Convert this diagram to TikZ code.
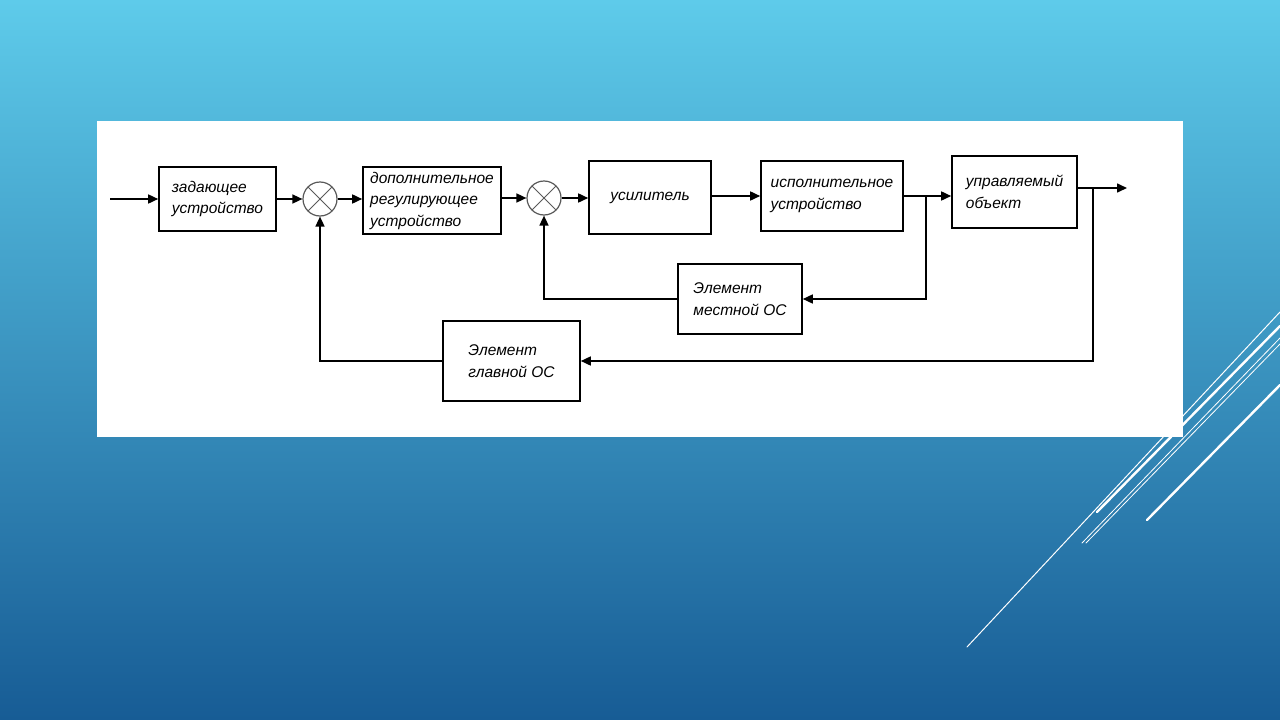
\documentclass[tikz,border=0pt]{standalone}
\usepackage{fontspec}
\setmainfont{Liberation Sans}
\usetikzlibrary{arrows.meta}
\definecolor{bgtop}{HTML}{5ECBEA}
\definecolor{bgmid}{HTML}{3499C9}
\definecolor{bgbot}{HTML}{175C95}
\definecolor{sumgray}{gray}{0.35}

\begin{document}
\begin{tikzpicture}[
  x=1pt, y=-1pt,
  box/.style={draw, line width=1.6pt, align=left, inner sep=0pt,
    font=\itshape\fontsize{15.5}{21.5}\selectfont},
  sumnode/.style={circle, draw=sumgray, line width=1.2pt, minimum size=34pt, inner sep=0pt,
    path picture={\draw[sumgray, line width=1pt]
      (path picture bounding box.north west) -- (path picture bounding box.south east)
      (path picture bounding box.north east) -- (path picture bounding box.south west);}},
  arr/.style={-{Triangle[length=10pt,width=9pt]}, line width=1.6pt},
  deco/.style={white, line cap=round}
]
  \useasboundingbox (0,0) rectangle (1280,720);
  \shade[top color=bgtop, middle color=bgmid, bottom color=bgbot] (0,0) rectangle (1280,720);

  % slide ornament
  \draw[deco, line width=1pt]   (967,647)  -- (1280,312);
  \draw[deco, line width=2.4pt] (1097,512) -- (1280,326);
  \draw[deco, line width=0.8pt] (1082,543) -- (1280,338);
  \draw[deco, line width=0.8pt] (1086,543) -- (1280,344);
  \draw[deco, line width=2.4pt] (1147,520) -- (1280,385);

  \fill[white] (97,121) rectangle (1183,437);

  % forward path
  \node[box, minimum width=117pt, minimum height=64pt] (zad)  at (217.5,199) {задающее\\устройство};
  \node[sumnode] (sum1) at (320,199) {};
  \node[box, minimum width=138pt, minimum height=67pt] (dop)  at (432,200.5) {дополнительное\\регулирующее\\устройство};
  \node[sumnode] (sum2) at (544,198) {};
  \node[box, minimum width=122pt, minimum height=73pt] (usil) at (650,197.5) {усилитель};
  \node[box, minimum width=142pt, minimum height=70pt] (isp)  at (832,196) {исполнительное\\устройство};
  \node[box, minimum width=125pt, minimum height=72pt] (obj)  at (1014.5,192) {управляемый\\объект};

  % feedback elements
  \node[box, minimum width=124pt, minimum height=70pt] (mos) at (740,299) {Элемент\\местной ОС};
  \node[box, minimum width=137pt, minimum height=80pt] (gos) at (511.5,361) {Элемент\\главной ОС};

  \coordinate (in)  at (110,199);
  \coordinate (out) at (1127,188);
  \coordinate (br1) at (926,196);
  \coordinate (br2) at (1093,188);

  \draw[arr] (in) -- (zad);
  \draw[arr] (zad) -- (sum1);
  \draw[arr] (sum1.east) -- (sum1.east -| dop.west);
  \draw[arr] (dop.east |- sum2) -- (sum2.west);
  \draw[arr] (sum2.east) -- (sum2.east -| usil.west);
  \draw[arr] (usil.east |- isp) -- (isp.west);
  \draw[arr] (isp.east) -- (isp.east -| obj.west);
  \draw[arr] (obj.east |- out) -- (out);

  \draw[arr] (br1) |- (mos.east);
  \draw[arr] (mos.west) -| (sum2.south);
  \draw[arr] (br2) |- (gos.east);
  \draw[arr] (gos.west) -| (sum1.south);
\end{tikzpicture}
\end{document}
